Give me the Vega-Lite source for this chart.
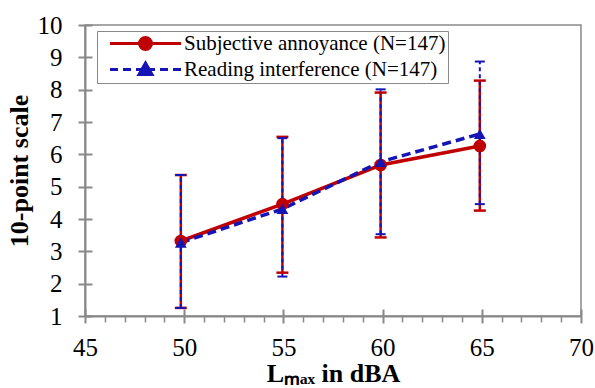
{
  "$schema": "https://vega.github.io/schema/vega-lite/v6.json",
  "width": 496,
  "height": 291,
  "autosize": "none",
  "padding": {"left": 85, "top": 25, "right": 14, "bottom": 72},
  "config": {
    "view": {"stroke": "#898989", "strokeWidth": 1.5},
    "font": "Times New Roman, Liberation Serif, serif",
    "axis": {"grid": false, "domainColor": "#898989", "tickColor": "#898989", "domainWidth": 2, "tickWidth": 2, "labelColor": "#000", "titleColor": "#000", "labelFont": "Times New Roman, Liberation Serif, serif", "titleFont": "Times New Roman, Liberation Serif, serif"}
  },
  "data": {
    "values": [
      {"series": "Subjective annoyance (N=147)", "x": 49.83, "y": 3.32, "lo": 1.25, "hi": 5.36},
      {"series": "Subjective annoyance (N=147)", "x": 54.95, "y": 4.46, "lo": 2.34, "hi": 6.54},
      {"series": "Subjective annoyance (N=147)", "x": 59.9, "y": 5.67, "lo": 3.43, "hi": 7.91},
      {"series": "Subjective annoyance (N=147)", "x": 64.9, "y": 6.26, "lo": 4.26, "hi": 8.28},
      {"series": "Reading interference (N=147)", "x": 49.83, "y": 3.27, "lo": 1.25, "hi": 5.36},
      {"series": "Reading interference (N=147)", "x": 54.95, "y": 4.31, "lo": 2.22, "hi": 6.5},
      {"series": "Reading interference (N=147)", "x": 59.9, "y": 5.77, "lo": 3.53, "hi": 8.01},
      {"series": "Reading interference (N=147)", "x": 64.9, "y": 6.63, "lo": 4.46, "hi": 8.87}
    ]
  },
  "resolve": {"axis": {"x": "independent", "y": "independent"}},
  "layer": [
    {
      "transform": [{"filter": "datum.series == 'Subjective annoyance (N=147)'"}],
      "mark": {"type": "rule", "color": "#C00000", "strokeWidth": 2.5},
      "encoding": {
        "x": {"field": "x", "type": "quantitative", "scale": {"domain": [45, 70], "nice": false, "zero": false},
          "axis": {"orient": "bottom", "values": [45, 50, 55, 60, 65, 70], "tickSize": 7, "labelPadding": 12, "labelFontSize": 25, "labelFlush": false, "labelOverlap": false, "title": "Lₘₐₓ in dBA", "titleFontSize": 26, "titleFontWeight": "bold", "titlePadding": 0}},
        "y": {"field": "lo", "type": "quantitative", "scale": {"domain": [1, 10], "nice": false, "zero": false},
          "axis": {"orient": "left", "values": [1, 2, 3, 4, 5, 6, 7, 8, 9, 10], "tickSize": 7, "labelPadding": 16, "labelFontSize": 25, "labelFlush": false, "labelOverlap": false, "title": "10-point scale", "titleFontSize": 26, "titleFontWeight": "bold", "titlePadding": 5}},
        "y2": {"field": "hi"}
      }
    },
    {
      "transform": [{"filter": "datum.series == 'Reading interference (N=147)'"}],
      "mark": {"type": "rule", "color": "#1515B5", "strokeWidth": 2, "strokeDash": [4, 3]},
      "encoding": {
        "x": {"field": "x", "type": "quantitative", "axis": {"orient": "bottom", "values": [45, 50, 55, 60, 65, 70], "tickSize": -7, "labels": false, "domain": false, "title": null}},
        "y": {"field": "lo", "type": "quantitative", "axis": {"orient": "left", "values": [1, 2, 3, 4, 5, 6, 7, 8, 9, 10], "tickSize": -7, "labels": false, "domain": false, "title": null}},
        "y2": {"field": "hi"}
      }
    },
    {
      "transform": [{"filter": "datum.series == 'Subjective annoyance (N=147)'"}, {"fold": ["lo", "hi"], "as": ["end", "val"]}],
      "mark": {"type": "point", "shape": "M-1,0H1", "filled": false, "color": "#C00000", "strokeWidth": 2.5, "size": 144, "opacity": 1},
      "encoding": {
        "x": {"field": "x", "type": "quantitative", "axis": {"orient": "bottom", "values": [46, 47, 48, 49, 51, 52, 53, 54, 56, 57, 58, 59, 61, 62, 63, 64, 66, 67, 68, 69], "tickSize": 6, "tickWidth": 1.5, "labels": false, "domain": false, "title": null}},
        "y": {"field": "val", "type": "quantitative", "axis": null}
      }
    },
    {
      "transform": [{"filter": "datum.series == 'Reading interference (N=147)'"}, {"fold": ["lo", "hi"], "as": ["end", "val"]}],
      "mark": {"type": "point", "shape": "M-1,0H1", "filled": false, "color": "#1515B5", "strokeWidth": 2, "size": 100, "opacity": 1},
      "encoding": {
        "x": {"field": "x", "type": "quantitative", "axis": null},
        "y": {"field": "val", "type": "quantitative", "axis": null}
      }
    },
    {
      "transform": [{"filter": "datum.series == 'Subjective annoyance (N=147)'"}],
      "mark": {"type": "line", "color": "#C00000", "strokeWidth": 3.5},
      "encoding": {
        "x": {"field": "x", "type": "quantitative", "axis": null},
        "y": {"field": "y", "type": "quantitative", "axis": null}
      }
    },
    {
      "transform": [{"filter": "datum.series == 'Reading interference (N=147)'"}],
      "mark": {"type": "line", "color": "#1515B5", "strokeWidth": 3.5, "strokeDash": [9, 5]},
      "encoding": {
        "x": {"field": "x", "type": "quantitative", "axis": null},
        "y": {"field": "y", "type": "quantitative", "axis": null}
      }
    },
    {
      "transform": [{"filter": "datum.series == 'Subjective annoyance (N=147)'"}],
      "mark": {"type": "point", "shape": "circle", "filled": true, "color": "#C00000", "size": 160, "opacity": 1},
      "encoding": {
        "x": {"field": "x", "type": "quantitative", "axis": null},
        "y": {"field": "y", "type": "quantitative", "axis": null}
      }
    },
    {
      "transform": [{"filter": "datum.series == 'Reading interference (N=147)'"}],
      "mark": {"type": "point", "shape": "triangle-up", "filled": true, "color": "#1515B5", "size": 140, "opacity": 1},
      "encoding": {
        "x": {"field": "x", "type": "quantitative", "axis": null},
        "y": {"field": "y", "type": "quantitative", "axis": null}
      }
    },
    {
      "mark": {"type": "point", "filled": true, "opacity": 0},
      "encoding": {
        "x": {"field": "x", "type": "quantitative", "axis": null},
        "y": {"field": "y", "type": "quantitative", "axis": null},
        "color": {"field": "series", "type": "nominal",
          "scale": {"domain": ["Subjective annoyance (N=147)", "Reading interference (N=147)"], "range": ["#C00000", "#1515B5"]},
          "legend": {"orient": "none", "legendX": 12, "legendY": 6, "title": null, "padding": 2, "strokeColor": "#898989", "fillColor": "#fff", "symbolSize": 100, "symbolStrokeWidth": 3, "labelFont": "Times New Roman, Liberation Serif, serif", "labelFontSize": 21, "labelColor": "#000", "labelOffset": 64, "rowPadding": 1, "labelLimit": 0,
            "encode": {"symbols": {"update": {"fill": {"scale": "color", "field": "value"}, "stroke": {"scale": "color", "field": "value"}, "opacity": {"value": 1}, "strokeWidth": {"value": 3}}}}}},
        "shape": {"field": "series", "type": "nominal",
          "scale": {"domain": ["Subjective annoyance (N=147)", "Reading interference (N=147)"], "range": ["M0.1,0H14.3M6,0A1.2,1.2 0 1,0 8.4,0A1.2,1.2 0 1,0 6,0Z", "M0.1,0H1.7M2.7,0H4.3M5.3,0H9.1M10.1,0H11.7M12.7,0H14.3M7.2,-1.3L8.5,1L5.9,1Z"]}}
      }
    }
  ]
}
